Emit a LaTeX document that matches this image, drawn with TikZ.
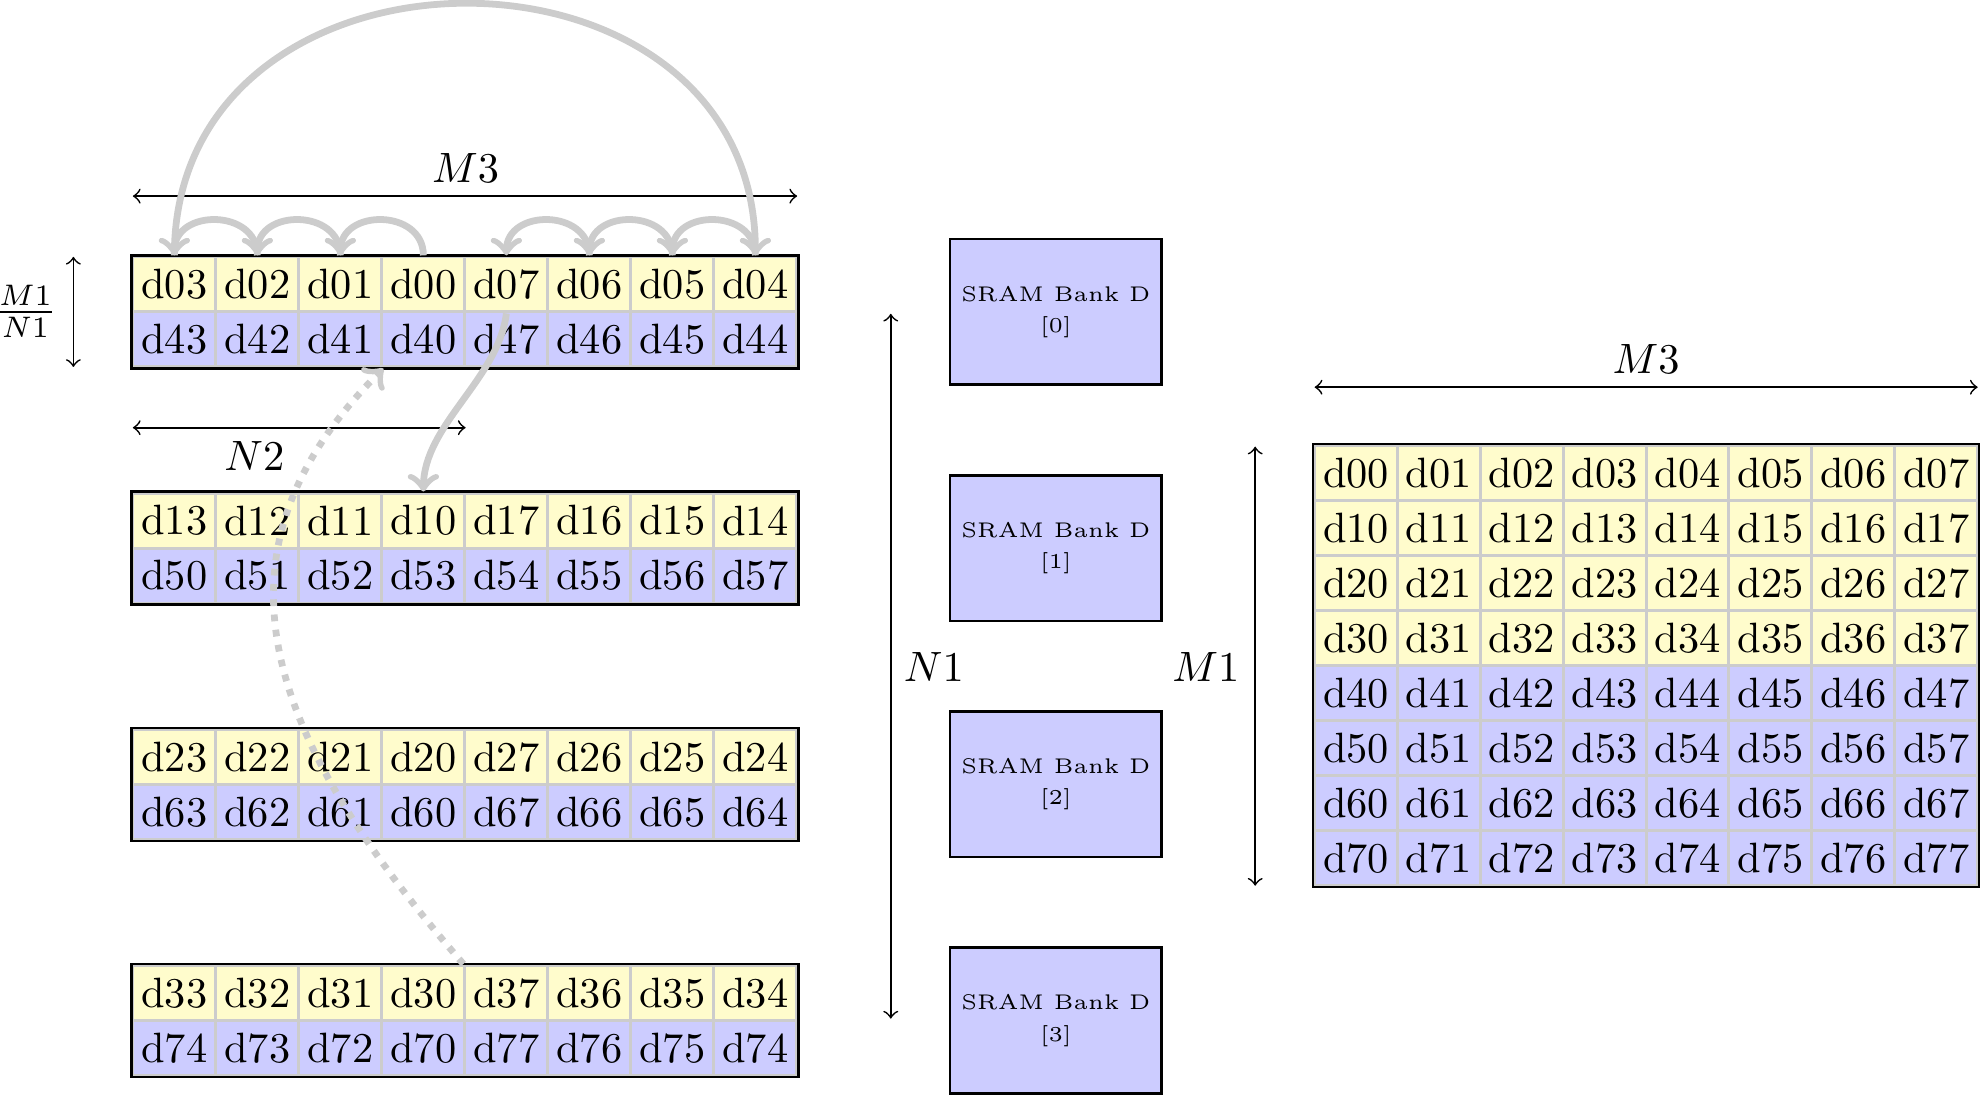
\documentclass[tikz,border=0pt]{standalone}
\begin{document}
\begin{tikzpicture}[x=0.01049cm, y=0.01049cm,
  cell/.style={draw=gray!40, line width=0.7pt, minimum width=0.688cm,
    minimum height=0.456cm, inner sep=0pt, anchor=center},
  hi/.style={cell, fill=yellow!20},
  lo/.style={cell, fill=blue!20},
  frame/.style={draw=black, line width=0.55pt},
  bank/.style={draw=black, line width=0.6pt, fill=blue!20, minimum width=1.752cm,
    minimum height=1.206cm, font=\tiny, align=center, inner sep=0pt},
  dim/.style={<->, black},
  flow/.style={->, draw=gray!40, line width=1.6pt},
  hop/.style={flow, out=90, in=90, looseness=1.45},
]
\useasboundingbox (0,0) rectangle (1568,-866.2);

% four two-row lines on the left
\foreach \k/\rowA/\rowB in {
  0/{d03,d02,d01,d00,d07,d06,d05,d04}/{d43,d42,d41,d40,d47,d46,d45,d44},
  1/{d13,d12,d11,d10,d17,d16,d15,d14}/{d50,d51,d52,d53,d54,d55,d56,d57},
  2/{d23,d22,d21,d20,d27,d26,d25,d24}/{d63,d62,d61,d60,d67,d66,d65,d64},
  3/{d33,d32,d31,d30,d37,d36,d35,d34}/{d74,d73,d72,d70,d77,d76,d75,d74}}{
  \pgfmathsetmacro{\rowtop}{203+186.67*\k}
  \foreach \lbl [count=\j from 0] in \rowA
    \node[hi] (a\k-t\j) at ({105+65.6*(\j+0.5)}, {-(\rowtop+21.75)}) {\lbl};
  \foreach \lbl [count=\j from 0] in \rowB
    \node[lo] (a\k-b\j) at ({105+65.6*(\j+0.5)}, {-(\rowtop+65.25)}) {\lbl};
  \draw[frame] (a\k-t0.north west) rectangle (a\k-b7.south east);
}

% SRAM banks
\foreach \k in {0,...,3}
  \node[bank] (s\k) at (834.5, {-(246.5+186.67*\k)}) {SRAM Bank D\\[1.4pt]{[\k]}};

% full 8x8 matrix on the right
\foreach \i in {0,...,3}
  \foreach \j in {0,...,7}
    \node[hi] (m\i\j) at ({1039+65.5*(\j+0.5)}, {-(352+43.5*(\i+0.5))}) {d\i\j};
\foreach \i in {4,...,7}
  \foreach \j in {0,...,7}
    \node[lo] (m\i\j) at ({1039+65.5*(\j+0.5)}, {-(352+43.5*(\i+0.5))}) {d\i\j};
\draw[frame] (m00.north west) rectangle (m77.south east);

% dimension arrows
\coordinate (mnA) at (58,-203);   \coordinate (mnB) at (58,-290);
\coordinate (tA) at (105,-155);   \coordinate (tB) at (630,-155);
\coordinate (nA) at (105,-338);   \coordinate (nB) at (368,-338);
\coordinate (bA) at (704,-248);   \coordinate (bB) at (704,-805);
\coordinate (rA) at (992,-353);   \coordinate (rB) at (992,-700);
\coordinate (cA) at (1039,-306);  \coordinate (cB) at (1563,-306);
\draw[dim] (mnA) -- (mnB);
\draw[dim] (tA) -- (tB);
\draw[dim] (nA) -- (nB);
\draw[dim] (bA) -- (bB);
\draw[dim] (rA) -- (rB);
\draw[dim] (cA) -- (cB);
\node (lMN) at (20,-246) {$\frac{M1}{N1}$};
\node (lM3a) at (368,-133) {$M3$};
\node (lN2) at (201,-360) {$N2$};
\node (lN1) at (738,-527) {$N1$};
\node (lM1) at (953,-527) {$M1$};
\node (lM3b) at (1301,-284) {$M3$};

% access order along the first line
\draw[hop] (a0-t3.north) to (a0-t2.north);
\draw[hop] (a0-t2.north) to (a0-t1.north);
\draw[hop] (a0-t1.north) to (a0-t0.north);
\draw[hop, looseness=1.48] (a0-t0.north) to (a0-t7.north);
\draw[hop] (a0-t7.north) to (a0-t6.north);
\draw[hop] (a0-t6.north) to (a0-t5.north);
\draw[hop] (a0-t5.north) to (a0-t4.north);

% jump to the next line
\draw[flow] (a0-t4.south) to[out=-97, in=90,
  out distance=0.55cm, in distance=0.55cm] (a1-t3.north);

% wrap-around back to the first line
\draw[flow, dotted] (a3-t4.north west) to[out=131, in=225,
  out distance=2.62cm, in distance=2.1cm] (a0-b2.south east);
\end{tikzpicture}
\end{document}
